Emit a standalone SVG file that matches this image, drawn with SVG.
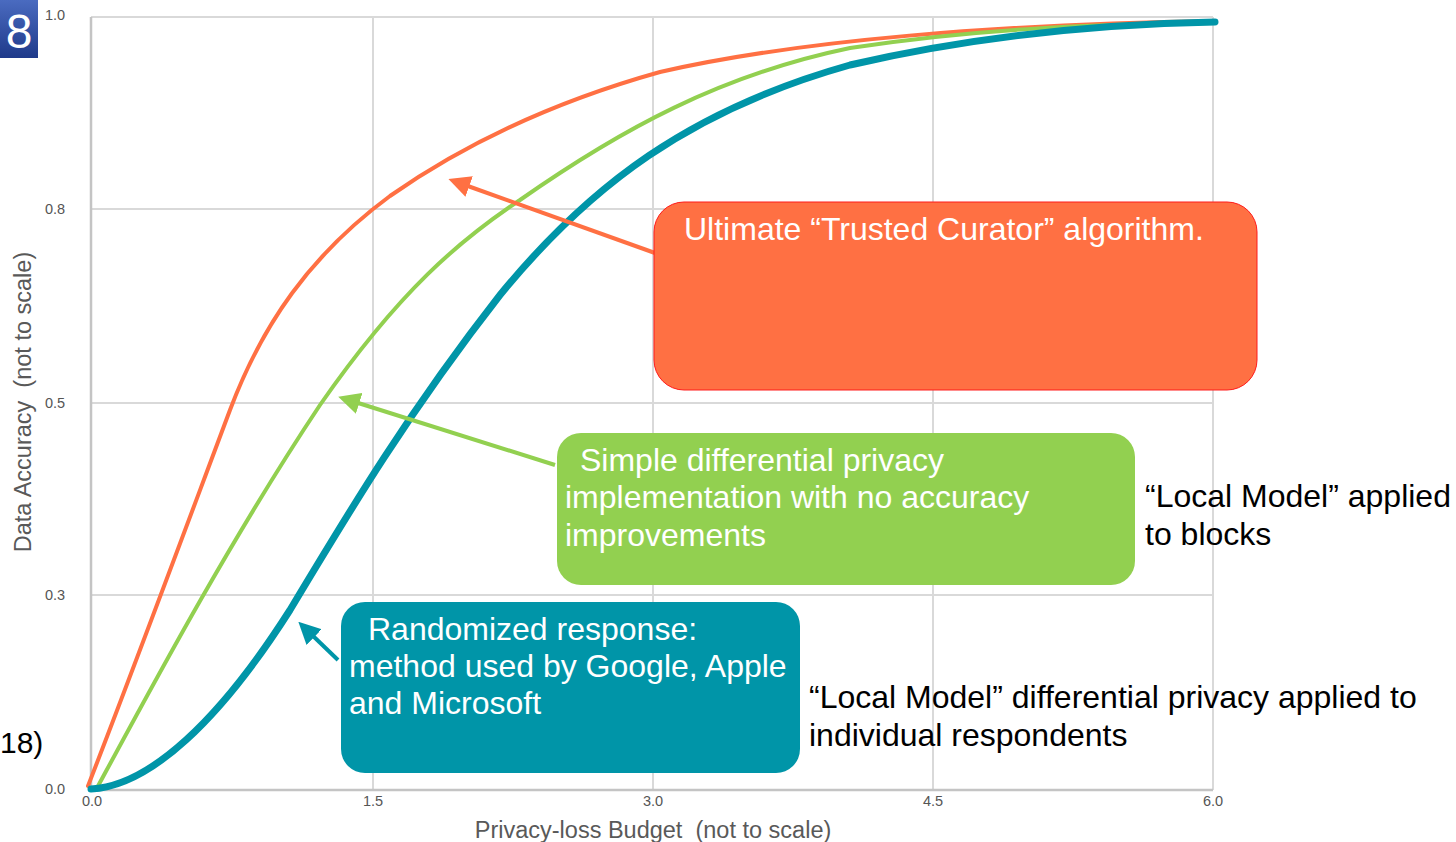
<svg xmlns="http://www.w3.org/2000/svg" width="1456" height="842" viewBox="0 0 1456 842">
  <defs>
    <linearGradient id="badgeGrad" x1="0" y1="0" x2="0" y2="1">
      <stop offset="0" stop-color="#4a6bc0"/>
      <stop offset="1" stop-color="#1f3a8a"/>
    </linearGradient>
    <marker id="headOrange" viewBox="0 0 10 10" refX="2" refY="5" markerWidth="5.5" markerHeight="5.5" orient="auto" markerUnits="strokeWidth">
      <path d="M0,0 L10,5 L0,10 z" fill="#ff7043"/>
    </marker>
    <marker id="headGreen" viewBox="0 0 10 10" refX="2" refY="5" markerWidth="5.5" markerHeight="5.5" orient="auto" markerUnits="strokeWidth">
      <path d="M0,0 L10,5 L0,10 z" fill="#92d050"/>
    </marker>
    <marker id="headTeal" viewBox="0 0 10 10" refX="2" refY="5" markerWidth="5.5" markerHeight="5.5" orient="auto" markerUnits="strokeWidth">
      <path d="M0,0 L10,5 L0,10 z" fill="#0095a8"/>
    </marker>
  </defs>
  <style>
    .grid { stroke: #d9d9d9; stroke-width: 2; fill: none; }
    .axis { stroke: #c4c4c4; stroke-width: 2.5; fill: none; }
    .tick { font-family: "Liberation Sans", Arial, sans-serif; font-size: 14.5px; fill: #555555; }
    .title { font-family: "Liberation Sans", Arial, sans-serif; font-size: 23.5px; fill: #595959; }
    .curve { fill: none; stroke-linecap: round; }
    .box-text { font-family: "Liberation Sans", Arial, sans-serif; font-size: 32px; fill: #ffffff; }
    .note { font-family: "Liberation Sans", Arial, sans-serif; font-size: 32px; fill: #000000; }
  </style>

  <rect x="0" y="0" width="1456" height="842" fill="#ffffff"/>

  <!-- grid -->
  <g id="grid">
    <line class="grid" x1="91" y1="17" x2="1213" y2="17"/>
    <line class="grid" x1="91" y1="209" x2="1213" y2="209"/>
    <line class="grid" x1="91" y1="403" x2="1213" y2="403"/>
    <line class="grid" x1="91" y1="595" x2="1213" y2="595"/>
    <line class="grid" x1="373" y1="17" x2="373" y2="790"/>
    <line class="grid" x1="653" y1="17" x2="653" y2="790"/>
    <line class="grid" x1="933" y1="17" x2="933" y2="790"/>
    <line class="grid" x1="1213" y1="17" x2="1213" y2="790"/>
    <line class="axis" x1="91" y1="17" x2="91" y2="790"/>
    <line class="axis" x1="91" y1="790" x2="1213" y2="790"/>
  </g>

  <!-- tick labels -->
  <g id="ticks">
    <text class="tick" x="45" y="20">1.0</text>
    <text class="tick" x="45" y="214">0.8</text>
    <text class="tick" x="45" y="408">0.5</text>
    <text class="tick" x="45" y="600">0.3</text>
    <text class="tick" x="45" y="794">0.0</text>
    <text class="tick" x="92" y="806" text-anchor="middle">0.0</text>
    <text class="tick" x="373" y="806" text-anchor="middle">1.5</text>
    <text class="tick" x="653" y="806" text-anchor="middle">3.0</text>
    <text class="tick" x="933" y="806" text-anchor="middle">4.5</text>
    <text class="tick" x="1213" y="806" text-anchor="middle">6.0</text>
  </g>

  <!-- axis titles -->
  <g id="axis-titles">
    <text class="title" x="653" y="838" text-anchor="middle" xml:space="preserve">Privacy-loss Budget  (not to scale)</text>
    <text class="title" transform="translate(31,402) rotate(-90)" text-anchor="middle" xml:space="preserve">Data Accuracy  (not to scale)</text>
  </g>

  <!-- slide number badge and cut-off text -->
  <g id="badge">
    <rect x="0" y="0" width="38" height="58" fill="url(#badgeGrad)"/>
    <text x="19" y="48" text-anchor="middle" font-family="Liberation Sans, Arial, sans-serif" font-size="48" fill="#ffffff">8</text>
  </g>
  <text x="0" y="753" font-family="Liberation Sans, Arial, sans-serif" font-size="30" fill="#000000">18)</text>

  <!-- curves -->
  <g id="curves">
    <path id="curve-orange" class="curve" stroke="#ff7043" stroke-width="4"
      d="M88,786 C135,665 185,530 230,410 C262,325 310,255 390,196 C470,140 560,100 660,72 C800,40 1000,24 1215,21"/>
    <path id="curve-green" class="curve" stroke="#92d050" stroke-width="4"
      d="M97,788 C150,690 230,540 320,405 C400,290 460,240 520,200 C620,130 720,75 850,48 C980,28 1100,24 1215,23"/>
    <path id="curve-teal" class="curve" stroke="#0095a8" stroke-width="7"
      d="M91,789 C150,786 220,720 290,610 C350,510 410,410 500,295 C590,185 690,110 850,65 C980,35 1100,24 1215,22"/>
  </g>

  <!-- pointers -->
  <g id="connectors">
    <line x1="655" y1="253" x2="465" y2="185" stroke="#ff7043" stroke-width="4" marker-end="url(#headOrange)"/>
    <line x1="555" y1="465" x2="355" y2="402" stroke="#92d050" stroke-width="4" marker-end="url(#headGreen)"/>
    <line x1="338" y1="660" x2="311" y2="634" stroke="#0095a8" stroke-width="4" marker-end="url(#headTeal)"/>
  </g>

  <!-- callout boxes -->
  <g id="box-trusted-curator">
    <rect x="654" y="202" width="603" height="188" rx="30" ry="30" fill="#ff7043" stroke="#ff1a1a" stroke-width="1"/>
    <text class="box-text" x="684" y="240">Ultimate “Trusted Curator” algorithm.</text>
  </g>
  <g id="box-simple-dp">
    <rect x="557" y="433" width="578" height="152" rx="24" ry="24" fill="#92d050"/>
    <text class="box-text" x="580" y="471">Simple differential privacy</text>
    <text class="box-text" x="565" y="508">implementation with no accuracy</text>
    <text class="box-text" x="565" y="546">improvements</text>
  </g>
  <g id="box-randomized">
    <rect x="341" y="602" width="459" height="171" rx="24" ry="24" fill="#0095a8"/>
    <text class="box-text" x="368" y="640">Randomized response:</text>
    <text class="box-text" x="349" y="677">method used by Google, Apple</text>
    <text class="box-text" x="349" y="714">and Microsoft</text>
  </g>

  <!-- side notes -->
  <g id="note-blocks">
    <text class="note" x="1145" y="507">“Local Model” applied</text>
    <text class="note" x="1145" y="545">to blocks</text>
  </g>
  <g id="note-individual">
    <text class="note" x="809" y="708">“Local Model” differential privacy applied to</text>
    <text class="note" x="809" y="746">individual respondents</text>
  </g>
</svg>
